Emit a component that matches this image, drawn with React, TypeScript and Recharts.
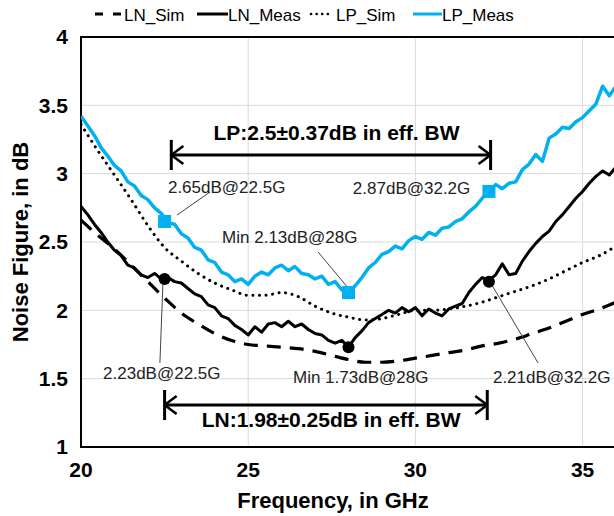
import React from 'react';
import {
  ComposedChart, Line, XAxis, YAxis, CartesianGrid,
  ReferenceLine, ReferenceDot, ReferenceArea, Label,
} from 'recharts';

const FONT = '"Liberation Sans", Arial, sans-serif';
const NARROW = '"Liberation Sans Narrow", "Liberation Sans", Arial, sans-serif';
const CYAN = '#00b0f0';

// measured traces, 0.2 GHz grid
const freqMeas = [
  20, 20.2, 20.4, 20.6, 20.8, 21, 21.2, 21.4, 21.6, 21.8,
  22, 22.2, 22.4, 22.6, 22.8, 23, 23.2, 23.4, 23.6, 23.8,
  24, 24.2, 24.4, 24.6, 24.8, 25, 25.2, 25.4, 25.6, 25.8,
  26, 26.2, 26.4, 26.6, 26.8, 27, 27.2, 27.4, 27.6, 27.8,
  28, 28.2, 28.4, 28.6, 28.8, 29, 29.2, 29.4, 29.6, 29.8,
  30, 30.2, 30.4, 30.6, 30.8, 31, 31.2, 31.4, 31.6, 31.8,
  32, 32.2, 32.4, 32.6, 32.8, 33, 33.2, 33.4, 33.6, 33.8,
  34, 34.2, 34.4, 34.6, 34.8, 35, 35.2, 35.4, 35.6, 35.8, 36,
];
const lpMeas = [
  3.42, 3.35, 3.28, 3.19, 3.13, 3.06, 3.02, 2.94, 2.91, 2.84,
  2.81, 2.75, 2.71, 2.64, 2.63, 2.56, 2.53, 2.46, 2.44, 2.37,
  2.35, 2.28, 2.26, 2.21, 2.23, 2.19, 2.25, 2.28, 2.26, 2.31,
  2.33, 2.29, 2.32, 2.27, 2.26, 2.23, 2.25, 2.19, 2.21, 2.15,
  2.13, 2.18, 2.24, 2.31, 2.35, 2.41, 2.43, 2.47, 2.45, 2.51,
  2.54, 2.52, 2.57, 2.55, 2.60, 2.61, 2.65, 2.67, 2.72, 2.76,
  2.82, 2.87, 2.92, 2.89, 2.93, 2.94, 3.03, 3.07, 3.14, 3.09,
  3.26, 3.29, 3.34, 3.33, 3.38, 3.41, 3.46, 3.51, 3.64, 3.57, 3.64,
];
const lnMeas = [
  2.76, 2.70, 2.63, 2.57, 2.50, 2.44, 2.40, 2.33, 2.31, 2.26,
  2.24, 2.27, 2.23, 2.24, 2.21, 2.20, 2.16, 2.12, 2.10, 2.04,
  2.02, 1.96, 1.94, 1.89, 1.86, 1.82, 1.88, 1.84, 1.90, 1.91,
  1.88, 1.92, 1.88, 1.90, 1.86, 1.83, 1.82, 1.78, 1.76, 1.78,
  1.73, 1.80, 1.85, 1.91, 1.94, 1.97, 2.00, 1.98, 2.02, 1.99,
  2.02, 1.96, 2.01, 1.98, 1.96, 2.01, 2.03, 2.05, 2.13, 2.19,
  2.24, 2.22, 2.26, 2.34, 2.26, 2.27, 2.36, 2.43, 2.49, 2.54,
  2.58, 2.65, 2.70, 2.76, 2.82, 2.87, 2.93, 2.98, 3.02, 2.99, 3.05,
];

// simulated traces, 0.5 GHz grid
const freqSim = [
  20, 20.5, 21, 21.5, 22, 22.5, 23, 23.5, 24, 24.5, 25, 25.5, 26, 26.5, 27, 27.5,
  28, 28.5, 29, 29.5, 30, 30.5, 31, 31.5, 32, 32.5, 33, 33.5, 34, 34.5, 35, 35.5, 36,
];
const lnSim = [
  2.66, 2.55, 2.45, 2.33, 2.21, 2.09, 1.98, 1.90, 1.83, 1.78, 1.75, 1.74, 1.73, 1.72, 1.70, 1.67,
  1.64, 1.62, 1.62, 1.63, 1.65, 1.67, 1.69, 1.71, 1.74, 1.76, 1.79, 1.83, 1.87, 1.92, 1.97, 2.01, 2.06,
];
const lpSim = [
  3.36, 3.17, 2.99, 2.81, 2.62, 2.46, 2.36, 2.27, 2.20, 2.15, 2.11, 2.11, 2.13, 2.10, 2.03, 1.98,
  1.95, 1.93, 1.94, 1.97, 2.00, 2.00, 2.01, 2.03, 2.06, 2.10, 2.14, 2.18, 2.23, 2.29, 2.35, 2.40, 2.47,
];

const markerFreq = [22.5, 28, 32.2];
const lnMarkerNf = [2.23, 1.73, 2.21];
const lpMarkerNf = [2.65, 2.13, 2.87];

const xTicks = [20, 25, 30, 35];
const yTicks = [1, 1.5, 2, 2.5, 3, 3.5, 4];

const toPts = (xs: number[], ys: number[]) => xs.map((f, i) => ({ f, nf: ys[i] }));

// annotation text, anchored at the baseline-left (or centre for bold ones)
const notes = [
  { text: '2.65dB@22.5G', f: 22.6, nf: 2.858 },
  { text: 'Min 2.13dB@28G', f: 24.22, nf: 2.493 },
  { text: '2.87dB@32.2G', f: 28.13, nf: 2.851 },
  { text: '2.23dB@22.5G', f: 20.66, nf: 1.4975 },
  { text: 'Min 1.73dB@28G', f: 26.34, nf: 1.468 },
  { text: '2.21dB@32.2G', f: 32.32, nf: 1.468 },
];
const leaders = [
  [23.86, 2.866, 22.87, 2.697],
  [27.09, 2.427, 28.0, 2.16],
  [22.45, 2.20, 22.36, 1.615],
  [32.3, 2.18, 33.67, 1.615],
];
const spans = [
  { label: 'LP:2.5±0.37dB in eff. BW', x1: 22.7, x2: 32.25, nf: 3.137, lf: 27.64, lnf: 3.246 },
  { label: 'LN:1.98±0.25dB in eff. BW', x1: 22.5, x2: 32.15, nf: 1.307, lf: 27.48, lnf: 1.146 },
];

function Legend() {
  const t = { fontFamily: NARROW, fontSize: 17, fill: '#000' };
  return (
    <svg width={614} height={30} style={{ position: 'absolute', left: 0, top: 0 }}>
      <line x1={95} x2={121} y1={14} y2={14} stroke="#000" strokeWidth={3} strokeDasharray="8 10" />
      <text x={124} y={21} {...t}>LN_Sim</text>
      <line x1={197} x2={228} y1={14} y2={14} stroke="#000" strokeWidth={3} />
      <text x={228} y={21} {...t}>LN_Meas</text>
      <line x1={311} x2={333} y1={14} y2={14} stroke="#000" strokeWidth={2.6} strokeDasharray="0.1 5.5" strokeLinecap="round" />
      <text x={336} y={21} {...t}>LP_Sim</text>
      <line x1={413} x2={442} y1={14} y2={14} stroke={CYAN} strokeWidth={3} />
      <text x={442} y={21} {...t}>LP_Meas</text>
    </svg>
  );
}

export default function App() {
  const tick = { fill: '#000', fontSize: 21, fontWeight: 'bold', fontFamily: FONT };
  return (
    <div style={{ position: 'absolute', left: 0, top: 0, width: 614, height: 516, overflow: 'hidden', background: '#fff' }}>
      <ComposedChart width={616} height={516} margin={{ top: 37, right: 0, bottom: 0, left: 0 }}>
        <CartesianGrid stroke="#d9d9d9" strokeWidth={1} />
        <XAxis
          type="number" dataKey="f" domain={[20, 36]} ticks={xTicks} interval={0}
          allowDataOverflow tickLine={false} axisLine={false} tickSize={0} tickMargin={15}
          height={69} tick={tick}
        >
          <Label
            content={(p: any) => {
              const vb = p.viewBox || { x: 81, y: 447 };
              return (
                <text x={333} y={vb.y + 61} textAnchor="middle" fontSize={22} fontWeight="bold" fontFamily={FONT} fill="#000">
                  Frequency, in GHz
                </text>
              );
            }}
          />
        </XAxis>
        <YAxis
          type="number" domain={[1, 4]} ticks={yTicks} interval={0} allowDataOverflow
          tickLine={false} axisLine={false} tickSize={0} tickMargin={13} width={81} tick={tick}
        >
          <Label
            content={(p: any) => {
              const vb = p.viewBox || { x: 0, y: 37, height: 410 };
              const x = vb.x + 20;
              const y = vb.y + vb.height / 2;
              return (
                <text x={x} y={y} transform={`rotate(-90, ${x}, ${y})`} textAnchor="middle" dominantBaseline="central"
                  fontSize={22} fontWeight="bold" fontFamily={FONT} fill="#000">
                  Noise Figure, in dB
                </text>
              );
            }}
          />
        </YAxis>

        <Line data={toPts(freqSim, lnSim)} dataKey="nf" type="monotone" stroke="#000" strokeWidth={3.2}
          strokeDasharray="14 9" dot={false} activeDot={false} isAnimationActive={false} />
        <Line data={toPts(freqSim, lpSim)} dataKey="nf" type="monotone" stroke="#000" strokeWidth={3}
          strokeDasharray="0.1 6.5" strokeLinecap="round" dot={false} activeDot={false} isAnimationActive={false} />
        <Line data={toPts(freqMeas, lnMeas)} dataKey="nf" type="linear" stroke="#000" strokeWidth={3}
          strokeLinejoin="round" dot={false} activeDot={false} isAnimationActive={false} />
        <Line data={toPts(freqMeas, lpMeas)} dataKey="nf" type="linear" stroke={CYAN} strokeWidth={3.5}
          strokeLinejoin="round" dot={false} activeDot={false} isAnimationActive={false} />

        <ReferenceArea x1={20} x2={36} y1={1} y2={4} fill="none" stroke="#000" strokeWidth={2} ifOverflow="visible" />

        {leaders.map((l, i) => (
          <ReferenceLine key={'ld' + i} segment={[{ x: l[0], y: l[1] }, { x: l[2], y: l[3] }]} stroke="#444" strokeWidth={1} />
        ))}

        {spans.map((s, i) => (
          <React.Fragment key={'sp' + i}>
            <ReferenceLine segment={[{ x: s.x1, y: s.nf }, { x: s.x2, y: s.nf }]} stroke="#000" strokeWidth={3} />
            <ReferenceLine segment={[{ x: s.x1, y: s.nf - 0.11 }, { x: s.x1, y: s.nf + 0.11 }]} stroke="#000" strokeWidth={3} />
            <ReferenceLine segment={[{ x: s.x2, y: s.nf - 0.11 }, { x: s.x2, y: s.nf + 0.11 }]} stroke="#000" strokeWidth={3} />
            <ReferenceLine segment={[{ x: s.x1, y: s.nf }, { x: s.x1 + 0.36, y: s.nf + 0.066 }]} stroke="#000" strokeWidth={2.5} />
            <ReferenceLine segment={[{ x: s.x1, y: s.nf }, { x: s.x1 + 0.36, y: s.nf - 0.066 }]} stroke="#000" strokeWidth={2.5} />
            <ReferenceLine segment={[{ x: s.x2, y: s.nf }, { x: s.x2 - 0.36, y: s.nf + 0.066 }]} stroke="#000" strokeWidth={2.5} />
            <ReferenceLine segment={[{ x: s.x2, y: s.nf }, { x: s.x2 - 0.36, y: s.nf - 0.066 }]} stroke="#000" strokeWidth={2.5} />
            <ReferenceDot x={s.lf} y={s.lnf} r={0}
              shape={(p: any) => (
                <text x={p.cx} y={p.cy} textAnchor="middle" fontSize={21} fontWeight="bold" fontFamily={FONT} fill="#000">
                  {s.label}
                </text>
              )}
            />
          </React.Fragment>
        ))}

        {markerFreq.map((f, i) => (
          <ReferenceDot key={'lnm' + i} x={f} y={lnMarkerNf[i]} r={6} fill="#000" stroke="none" />
        ))}
        {markerFreq.map((f, i) => (
          <ReferenceDot key={'lpm' + i} x={f} y={lpMarkerNf[i]} r={6}
            shape={(p: any) => <rect x={p.cx - 6.5} y={p.cy - 6.5} width={13} height={13} fill={CYAN} />}
          />
        ))}

        {notes.map((n, i) => (
          <ReferenceDot key={'nt' + i} x={n.f} y={n.nf} r={0}
            shape={(p: any) => (
              <text x={p.cx} y={p.cy} fontSize={17} fontFamily={FONT} fill="#222">{n.text}</text>
            )}
          />
        ))}
      </ComposedChart>
      <Legend />
    </div>
  );
}
